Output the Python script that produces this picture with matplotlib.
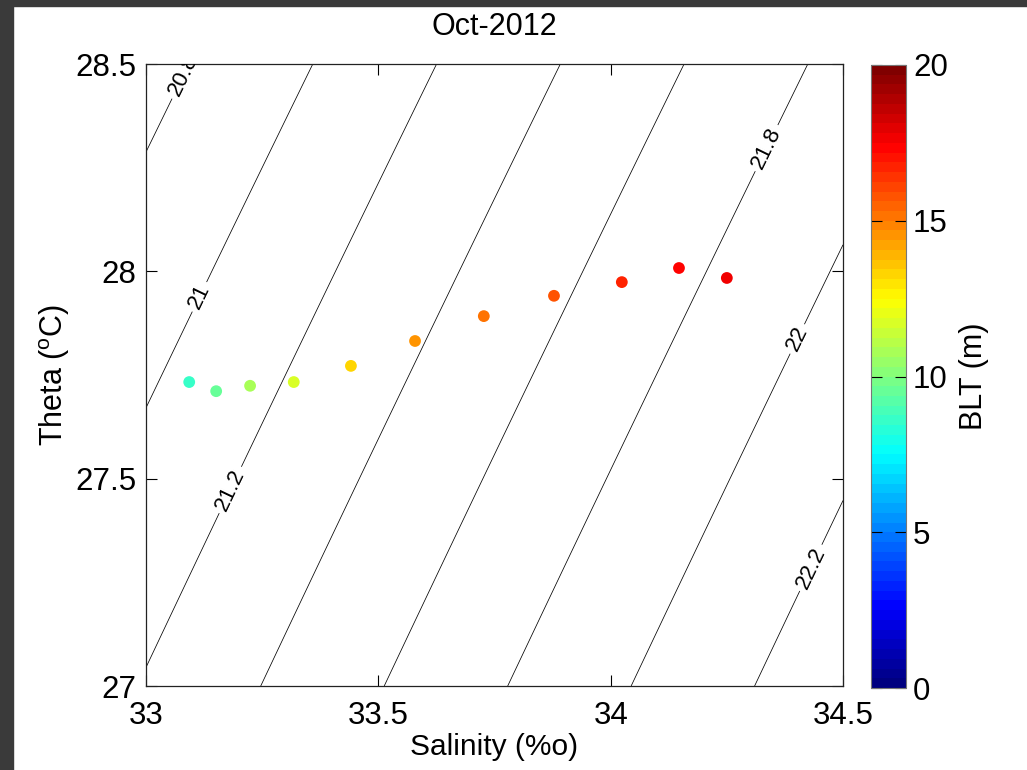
import numpy as np
import matplotlib
matplotlib.use("Agg")
import matplotlib.pyplot as plt
from matplotlib.colors import LinearSegmentedColormap, Normalize
from matplotlib.patches import Rectangle

plt.rcParams['font.family'] = ['Liberation Sans', 'DejaVu Sans']
plt.rcParams['mathtext.fontset'] = 'custom'
plt.rcParams['mathtext.rm'] = 'Liberation Sans'
plt.rcParams['mathtext.it'] = 'Liberation Sans'

# ---- data ----
salinity = [33.093, 33.151, 33.224, 33.318, 33.441, 33.579, 33.727, 33.878, 34.024, 34.147, 34.250]
theta = [27.733, 27.711, 27.724, 27.733, 27.772, 27.832, 27.892, 27.941, 27.974, 28.008, 27.984]
blt = [8.5, 9.5, 10.8, 11.8, 13.2, 14.5, 15.2, 15.8, 16.8, 17.3, 17.6]

sigma_levels = [20.8, 21.0, 21.2, 21.4, 21.6, 21.8, 22.0, 22.2]
label_positions = [(33.084, 28.47), (33.116, 27.938), (33.181, 27.473),
                   (34.343, 28.293), (34.407, 27.834), (34.440, 27.280)]

xticks = [33, 33.5, 34, 34.5]
xticklabels = ['33', '33.5', '34', '34.5']
yticks = [27, 27.5, 28, 28.5]
yticklabels = ['27', '27.5', '28', '28.5']
cbar_ticks = [0, 5, 10, 15, 20]


def sigma0(S, T):
    rw = (999.842594 + 6.793952e-2 * T - 9.095290e-3 * T**2 + 1.001685e-4 * T**3
          - 1.120083e-6 * T**4 + 6.536332e-9 * T**5)
    rho = (rw + S * (0.824493 - 4.0899e-3 * T + 7.6438e-5 * T**2 - 8.2467e-7 * T**3 + 5.3875e-9 * T**4)
           + S**1.5 * (-5.72466e-3 + 1.0227e-4 * T - 1.6546e-6 * T**2) + 4.8314e-4 * S**2)
    return rho - 1000.0


# MATLAB-style jet, 64 levels
jet_m = LinearSegmentedColormap('mjet', {
    'red':   [(0, 0, 0), (0.375, 0, 0), (0.625, 1, 1), (0.875, 1, 1), (1, 0.5, 0.5)],
    'green': [(0, 0, 0), (0.125, 0, 0), (0.375, 1, 1), (0.625, 1, 1), (0.875, 0, 0), (1, 0, 0)],
    'blue':  [(0, 0.5, 0.5), (0.125, 1, 1), (0.375, 1, 1), (0.625, 0, 0), (1, 0, 0)],
}, N=64)

fig = plt.figure(figsize=(10.27, 7.70), dpi=100)
fig.patches.append(Rectangle((0, 0), 13 / 1027, 1, transform=fig.transFigure, color='#3a3a3a', zorder=-10))
fig.patches.append(Rectangle((0, 1 - 6 / 770), 1, 6 / 770, transform=fig.transFigure, color='#3a3a3a', zorder=-10))

ax = fig.add_axes([146 / 1027, 1 - 686 / 770, 697 / 1027, 622 / 770])
cax = fig.add_axes([871 / 1027, 1 - 688 / 770, 35 / 1027, 623 / 770])

ax.set_xlim(33, 34.5)
ax.set_ylim(27, 28.5)

Sg, Tg = np.meshgrid(np.linspace(33, 34.5, 300), np.linspace(27, 28.5, 300))
cs = ax.contour(Sg, Tg, sigma0(Sg, Tg), levels=sigma_levels, colors='k', linewidths=0.55)
lbls = ax.clabel(cs, manual=label_positions, fmt=lambda v: f'{v:g}',
                 fontsize=16, inline=True, inline_spacing=4)
for t in cs.labelTexts:
    t.set_clip_on(True)

norm = Normalize(0, 20)
sc = ax.scatter(salinity, theta, c=blt, cmap=jet_m, norm=norm, s=72, edgecolors='none', zorder=3)

ax.set_xticks(xticks)
ax.set_xticklabels(xticklabels)
ax.set_yticks(yticks)
ax.set_yticklabels(yticklabels)
ax.tick_params(direction='in', length=8, width=0.8, labelsize=22.5, top=True, right=True)
ax.tick_params(axis='x', pad=11)
ax.tick_params(axis='y', pad=7)
for sp in ax.spines.values():
    sp.set_linewidth(0.9)
    sp.set_color('#222222')
ax.set_title('Oct-2012', fontsize=22, pad=21)
ax.set_xlabel('Salinity (%o)', fontsize=21.5, labelpad=1)
ax.set_ylabel(r'Theta ($^{\rm o}$C)', fontsize=22, labelpad=2)

cb = fig.colorbar(sc, cax=cax, ticks=cbar_ticks)
cb.ax.tick_params(direction='in', length=8, width=0.8, labelsize=22.5, left=True, right=True, pad=5)
cb.outline.set_edgecolor('#777777')
cb.set_label('BLT (m)', fontsize=22, labelpad=8)

fig.savefig('out.png', dpi=100)
